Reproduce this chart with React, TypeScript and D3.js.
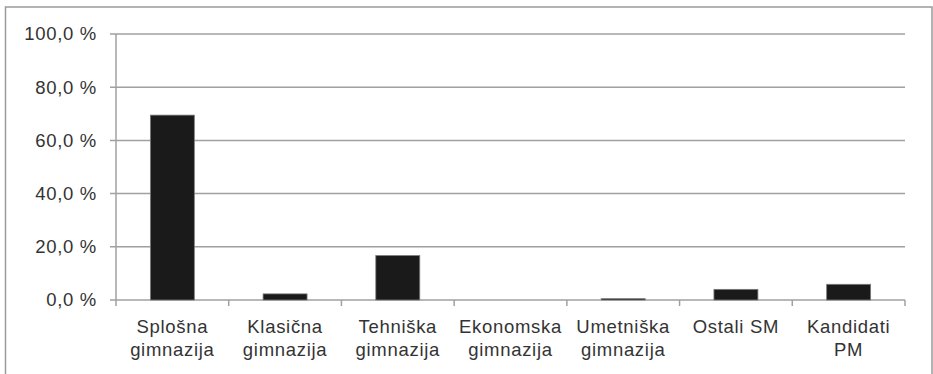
/** Bar chart — share of candidates by school type (Slovenian matura report style). */

import * as d3 from "d3";

const categories = [
  ["Splošna", "gimnazija"],
  ["Klasična", "gimnazija"],
  ["Tehniška", "gimnazija"],
  ["Ekonomska", "gimnazija"],
  ["Umetniška", "gimnazija"],
  ["Ostali SM"],
  ["Kandidati", "PM"],
];
const values = [69.5, 2.3, 16.7, 0, 0.5, 4.0, 5.9];
const yTicks = [0, 20, 40, 60, 80, 100];

const W = 933;
const H = 374;
const margin = { top: 34, right: 28, bottom: 74, left: 116 };

export default function App() {
  const innerW = W - margin.left - margin.right;
  const innerH = H - margin.top - margin.bottom;
  const keys = categories.map((c) => c.join(" "));

  const x = d3.scaleBand<string>().domain(keys).range([0, innerW]).paddingInner(0.61).paddingOuter(0.305);
  const xStep = d3.scaleBand<string>().domain(keys).range([0, innerW]);
  const y = d3.scaleLinear().domain([0, 100]).range([innerH, 0]);
  const fmt = (v: number) => d3.format(".1f")(v).replace(".", ",") + " %";

  const font = "'Liberation Sans', Arial, sans-serif";
  const textColor = "#333";

  return (
    <svg width={W} height={H} style={{ position: "absolute", left: 0, top: 0, background: "#fff" }}>
      {/* outer frame */}
      <rect x={5.5} y={7} width={926.5} height={420} fill="none" stroke="#9a9a9a" strokeWidth={1.5} />
      <g transform={`translate(${margin.left},${margin.top})`}>
        {/* gridlines + y labels */}
        {yTicks.map((t) => (
          <g key={t}>
            <line x1={-6} x2={innerW} y1={y(t)} y2={y(t)} stroke="#a0a0a0" strokeWidth={1.5} />
            <text
              x={-19}
              y={y(t)}
              dy="0.35em"
              textAnchor="end"
              fontFamily={font}
              fontSize={18.5}
              letterSpacing={0.7}
              fill={textColor}
            >
              {fmt(t)}
            </text>
          </g>
        ))}
        {/* y axis */}
        <line x1={0} x2={0} y1={0} y2={innerH + 6} stroke="#a0a0a0" strokeWidth={1.5} />
        {/* x category ticks */}
        {keys.map((k) => (
          <line
            key={k}
            x1={(xStep(k) ?? 0) + xStep.bandwidth()}
            x2={(xStep(k) ?? 0) + xStep.bandwidth()}
            y1={innerH}
            y2={innerH + 6}
            stroke="#a0a0a0"
            strokeWidth={1.5}
          />
        ))}
        {/* bars */}
        {values.map((v, i) => (
          <rect
            key={keys[i]}
            x={x(keys[i])}
            y={y(v)}
            width={x.bandwidth()}
            height={innerH - y(v)}
            fill="#1a1a1a"
            stroke="#7a7a7a"
            strokeWidth={0.8}
          />
        ))}
        {/* category labels */}
        {categories.map((lines, i) => {
          const cx = (xStep(keys[i]) ?? 0) + xStep.bandwidth() / 2;
          return (
            <text
              key={keys[i]}
              x={cx}
              y={innerH + 33}
              textAnchor="middle"
              fontFamily={font}
              fontSize={18.5}
              letterSpacing={0.7}
              fill={textColor}
            >
              {lines.map((l, j) => (
                <tspan key={j} x={cx} dy={j === 0 ? 0 : 22.5}>
                  {l}
                </tspan>
              ))}
            </text>
          );
        })}
      </g>
    </svg>
  );
}
